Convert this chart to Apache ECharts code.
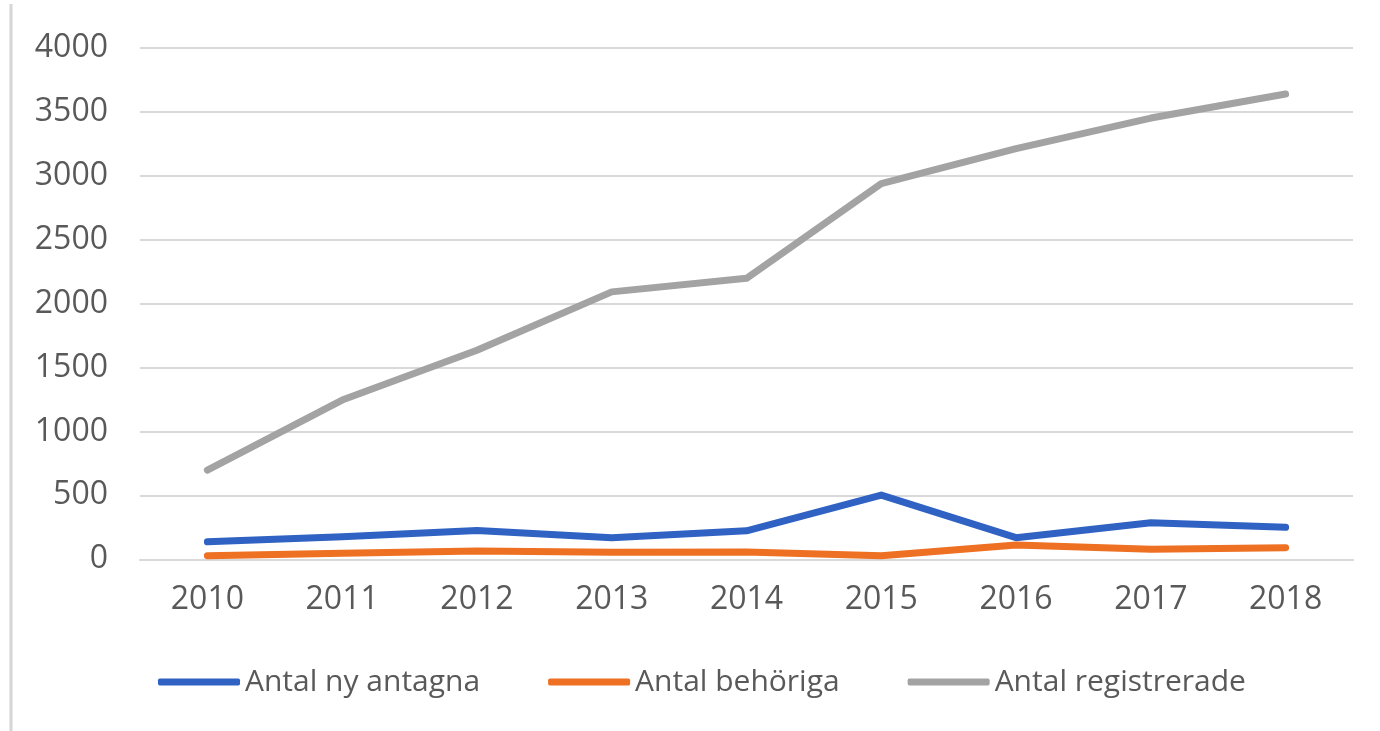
<!DOCTYPE html>
<html lang="sv">
<head>
    <meta charset="UTF-8">
    <title>Antal antagna, behöriga och registrerade</title>
    <script type="text/javascript" src="https://cdn.jsdelivr.net/npm/echarts@6/dist/echarts.min.js"></script>
    <style>
        html, body { margin: 0; padding: 0; background: #fff; }
        #main { width: 1380px; height: 731px; }
    </style>
</head>
<body>
    <div id="main"></div>
<script>
    // år på x-axeln
    var years = ['2010', '2011', '2012', '2013', '2014', '2015', '2016', '2017', '2018'];
    // värden
    var nyAntagna = [137, 177, 226, 169, 223, 502, 169, 286, 250];
    var behoriga = [28, 47, 65, 55, 57, 28, 112, 78, 91];
    var registrerade = [697, 1245, 1635, 2091, 2197, 2937, 3211, 3450, 3638];
    var seriesNames = ['Antal ny antagna', 'Antal behöriga', 'Antal registrerade'];

    var textColor = '#595959',
        gridColor = '#d9d9d9',
        fontFamily = '"Open Sans", sans-serif';

    var chart = echarts.init(document.getElementById('main'));

    function lineSerie(name, data, color) {
        return {
            name: name,
            type: 'line',
            data: data,
            symbol: 'none',
            color: color,
            lineStyle: { width: 7, color: color, cap: 'round', join: 'round' }
        };
    }

    var option = {
        backgroundColor: '#fff',
        animation: false,
        textStyle: { fontFamily: fontFamily },
        // tunn grå kant till vänster
        graphic: [{
            type: 'line',
            shape: { x1: 11, y1: 4, x2: 11, y2: 731 },
            style: { stroke: '#d6d6d6', lineWidth: 3 }
        }],
        grid: {
            left: 140,
            right: 27,
            top: 47.7,
            bottom: 171.7
        },
        legend: {
            data: seriesNames,
            left: 153,
            top: 662,
            icon: 'roundRect',
            itemWidth: 82,
            itemHeight: 7,
            itemGap: 68,
            textStyle: { color: textColor, fontSize: 30, fontFamily: fontFamily }
        },
        xAxis: {
            type: 'category',
            data: years,
            boundaryGap: true,
            axisLine: { show: true, lineStyle: { color: gridColor, width: 2 } },
            axisTick: { show: false },
            axisLabel: { color: textColor, fontSize: 32, margin: 25 }
        },
        yAxis: {
            type: 'value',
            min: 0,
            max: 4000,
            interval: 500,
            axisLine: { show: false },
            axisTick: { show: false },
            axisLabel: {
                color: textColor,
                fontSize: 32,
                margin: 32,
                formatter: function (v) { return String(v); } // utan tusentalsavgränsare
            },
            splitLine: { lineStyle: { color: gridColor, width: 2 } }
        },
        series: [
            lineSerie(seriesNames[0], nyAntagna, '#2f62c2'),
            lineSerie(seriesNames[1], behoriga, '#ee7022'),
            lineSerie(seriesNames[2], registrerade, '#a3a3a3')
        ]
    };

    chart.setOption(option);
    window.onresize = function () {
        chart.resize();
    };
</script>
</body>
</html>
